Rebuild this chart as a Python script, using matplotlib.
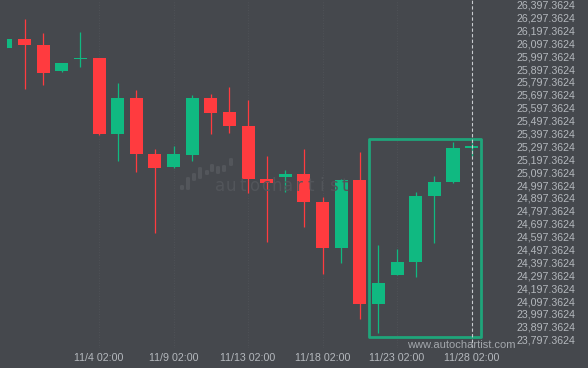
import matplotlib
matplotlib.use('Agg')
import matplotlib.pyplot as plt
import numpy as np
from matplotlib.patches import Rectangle, FancyBboxPatch

# ---- data ----
opens  = [26063.0, 26130.5, 26083.9, 25884.6, 25976.0, 25983.1, 25395.8, 25672.8, 25238.4, 25139.8,
          25232.9, 25672.8, 25564.2, 25455.6, 25044.4, 25062.2, 25083.2, 24866.0, 24511.4, 25036.6,
          24077.0, 24299.7, 24400.5, 24912.5, 25021.1, 25288.0]
highs  = [26130.5, 26283.3, 26174.7, 25944.3, 26182.5, 25985.0, 25786.8, 25734.9, 25274.8, 25300.4,
          25696.1, 25703.8, 25755.8, 25657.3, 25222.8, 25114.2, 25277.1, 24902.4, 25044.4, 25253.9,
          24532.4, 24501.4, 24943.6, 25067.7, 25331.5, 25339.0]
lows   = [26063.0, 25740.3, 25771.3, 25876.8, 25911.0, 25385.7, 25181.7, 25096.4, 24623.1, 25132.1,
          25181.7, 25391.2, 25403.6, 24933.5, 24553.3, 24945.9, 24674.4, 24309.7, 24390.4, 23956.0,
          23847.4, 24299.7, 24286.5, 24550.2, 25011.1, 25222.8]
closes = [26130.5, 26086.3, 25869.1, 25944.3, 25985.0, 25395.8, 25672.8, 25240.7, 25132.1, 25238.4,
          25672.8, 25558.8, 25455.6, 25046.7, 25015.7, 25083.2, 24866.0, 24511.4, 25036.6, 24077.0,
          24237.6, 24400.5, 24912.5, 25021.1, 25284.9, 25297.0]

x_tick_idx = [5, 9, 13, 17, 21, 25]
x_tick_labels = ['11/4 02:00', '11/9 02:00', '11/13 02:00', '11/18 02:00', '11/23 02:00', '11/28 02:00']
y_ticks = [23797.3624 + 100 * k for k in range(27)]

# pattern box and current-candle marker
box_x = [19.5, 25.5]
box_y = [23821.0, 25354.7]
marker_idx = 25

# ---- style ----
BG = '#45484d'
UP = '#10b981'
DOWN = '#ff3b3f'
TXT = '#b4b8bd'

W, H = 588, 368
fig = plt.figure(figsize=(W / 100, H / 100), dpi=100, facecolor=BG)
ax = fig.add_axes([7 / W, 1 - 348 / H, (510 - 7) / W, 348 / H])
ax.set_facecolor(BG)

# watermark (decorative)
wm_x = [180, 186, 192, 198, 205, 210, 216, 222, 229]
wm_top = [185, 177, 173, 167, 170, 164, 166, 165, 158]
wm_bot = [190, 190, 181, 179, 175, 172, 174, 172, 166]
for x0, t, b in zip(wm_x, wm_top, wm_bot):
    fig.add_artist(FancyBboxPatch((x0 / W, 1 - b / H), 4 / W, (b - t) / H,
                                  boxstyle='round,pad=0,rounding_size=0.003',
                                  transform=fig.transFigure, facecolor='#53565b',
                                  edgecolor='none', zorder=0.5))
wm_text = 'autochartist'
for k, ch in enumerate(wm_text):
    fig.text((220 + 11.3 * k) / W, 1 - 186 / H, ch, fontsize=12, color='#52555a',
             family='DejaVu Sans', ha='center', va='center', zorder=0.5)

ax.grid(axis='x', color='#4f5257', lw=0.7, ls=':')
ax.set_axisbelow(True)

idx = np.arange(len(opens))
for i, o, h, l, c in zip(idx, opens, highs, lows, closes):
    col = UP if c >= o else DOWN
    ax.vlines(i, l, h, color=col, lw=0.9, zorder=2)
    hgt = abs(c - o)
    if hgt < 12:
        hgt = 12
    ax.bar(i, hgt, bottom=min(o, c) - (hgt - abs(c - o)) / 2, width=0.7, color=col,
           edgecolor='none', zorder=3)

ax.add_patch(Rectangle((box_x[0], box_y[0]), box_x[1] - box_x[0], box_y[1] - box_y[0],
                       fill=False, edgecolor='#1fa57a', lw=2.0, joinstyle='round', zorder=4))
ax.axvline(marker_idx, color='#c9ccd0', lw=0.8, ls=(0, (3, 2)), zorder=5)

ax.set_xlim(0.059, 27.06)
ax.set_ylim(23733.3, 26433.0)

ax.yaxis.tick_right()
ax.set_yticks(y_ticks)
ax.set_yticklabels([f'{v:,.4f}' for v in y_ticks])
ax.set_xticks(x_tick_idx)
ax.set_xticklabels(x_tick_labels)
ax.tick_params(axis='y', length=0, pad=5, labelsize=7.7, labelcolor=TXT)
ax.tick_params(axis='x', length=0, pad=3.5, labelsize=7.7, labelcolor=TXT)
for lab in ax.get_xticklabels() + ax.get_yticklabels():
    lab.set_family('Liberation Sans')
for s in ax.spines.values():
    s.set_visible(False)

fig.text(461 / W, 1 - 345 / H, 'www.autochartist.com', fontsize=8, color='#a3a7ac',
         family='Liberation Sans', ha='center', va='center', zorder=6)

fig.savefig('out.png', dpi=100, facecolor=BG)
